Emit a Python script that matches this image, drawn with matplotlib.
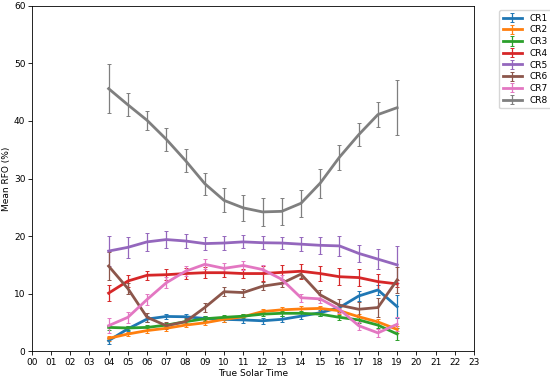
import matplotlib
matplotlib.use("Agg")
import matplotlib.pyplot as plt
import numpy as np

hours = [4, 5, 6, 7, 8, 9, 10, 11, 12, 13, 14, 15, 16, 17, 18, 19]
xtick_labels = ["%02d" % h for h in range(24)]
names = ["CR1", "CR2", "CR3", "CR4", "CR5", "CR6", "CR7", "CR8"]
colors = ["#1f77b4", "#ff7f0e", "#2ca02c", "#d62728", "#9467bd", "#8c564b", "#e377c2", "#7f7f7f"]

cr1 = [1.85, 3.9, 5.6, 6.05, 6.0, 5.7, 5.55, 5.45, 5.3, 5.55, 6.1, 6.7, 7.6, 9.6, 10.65, 7.75]
cr1_err = [0.5, 0.45, 0.5, 0.5, 0.5, 0.5, 0.5, 0.5, 0.5, 0.5, 0.5, 0.5, 0.65, 0.95, 0.9, 1.95]
cr2 = [2.25, 3.0, 3.6, 4.0, 4.55, 4.95, 5.55, 6.0, 6.9, 7.2, 7.35, 7.45, 7.05, 6.0, 5.1, 3.8]
cr2_err = [0.45, 0.4, 0.4, 0.4, 0.4, 0.4, 0.45, 0.45, 0.45, 0.45, 0.45, 0.45, 0.5, 0.5, 0.5, 0.55]
cr3 = [4.15, 4.05, 4.15, 4.55, 5.15, 5.65, 5.9, 6.1, 6.45, 6.6, 6.6, 6.45, 5.9, 5.45, 4.55, 3.0]
cr3_err = [0.4, 0.4, 0.4, 0.4, 0.4, 0.4, 0.4, 0.4, 0.4, 0.4, 0.4, 0.4, 0.45, 0.5, 0.55, 1.0]
cr4 = [10.1, 12.2, 13.2, 13.3, 13.5, 13.65, 13.65, 13.5, 13.5, 13.7, 13.9, 13.5, 12.95, 12.8, 12.1, 11.7]
cr4_err = [1.4, 1.0, 0.8, 0.95, 0.9, 0.95, 0.8, 0.8, 1.3, 1.25, 1.3, 1.3, 1.5, 1.5, 1.4, 0.6]
cr5 = [17.4, 18.05, 19.0, 19.4, 19.15, 18.7, 18.8, 19.0, 18.85, 18.8, 18.6, 18.4, 18.3, 17.0, 16.0, 15.0]
cr5_err = [2.6, 1.8, 1.5, 1.4, 1.15, 1.15, 1.2, 1.15, 1.1, 1.1, 1.2, 1.5, 1.7, 1.45, 1.75, 3.2]
cr6 = [14.8, 10.9, 5.9, 4.45, 5.15, 7.6, 10.35, 10.2, 11.3, 11.8, 13.4, 9.8, 8.0, 7.3, 7.6, 12.4]
cr6_err = [2.5, 1.0, 0.8, 0.6, 0.6, 0.8, 0.75, 0.7, 0.7, 0.7, 0.75, 0.9, 1.15, 1.3, 1.65, 2.3]
cr7 = [4.45, 5.9, 9.0, 11.9, 13.9, 15.1, 14.4, 14.9, 14.2, 12.5, 9.3, 9.1, 7.3, 4.45, 3.2, 4.7]
cr7_err = [1.3, 1.0, 0.95, 0.95, 0.85, 0.85, 0.85, 0.8, 0.7, 0.8, 0.7, 0.7, 0.7, 0.7, 0.65, 1.25]
cr8 = [45.6, 42.8, 40.1, 36.8, 33.1, 29.1, 26.2, 24.9, 24.2, 24.3, 25.7, 29.2, 33.7, 37.6, 41.1, 42.3]
cr8_err = [4.2, 2.0, 1.7, 2.0, 2.0, 1.9, 2.1, 2.3, 2.4, 2.3, 2.3, 2.5, 2.2, 2.0, 2.2, 4.8]

series = [cr1, cr2, cr3, cr4, cr5, cr6, cr7, cr8]
errors = [cr1_err, cr2_err, cr3_err, cr4_err, cr5_err, cr6_err, cr7_err, cr8_err]

plt.rcParams['font.family'] = ['DejaVu Sans']
fig = plt.figure(figsize=(5.5, 3.8), dpi=100)
ax = fig.add_axes([0.0576, 0.0755, 0.8044, 0.9095])

for name, c, y, e in zip(names, colors, series, errors):
    ax.errorbar(hours, y, yerr=e, color=c, label=name, linewidth=2,
                elinewidth=0.9, capsize=1.2, capthick=0.7)

ax.set_xlim(0, 23)
ax.set_ylim(0, 60)
ax.set_xticks(range(24))
ax.set_xticklabels(xtick_labels)
ax.set_yticks([0, 10, 20, 30, 40, 50, 60])
ax.tick_params(labelsize=6.5, length=3, width=0.6, pad=1.5)
for s in ax.spines.values():
    s.set_linewidth(0.6)
ax.set_xlabel("True Solar Time", fontsize=6.5, labelpad=2)
ax.set_ylabel("Mean RFO (%)", fontsize=6.5, labelpad=2)

ax.legend(loc="upper left", bbox_to_anchor=(1.05, 0.995), fontsize=6.5,
          borderaxespad=0.3, handlelength=2.2, labelspacing=0.3)

fig.savefig("out.png", dpi=100)
